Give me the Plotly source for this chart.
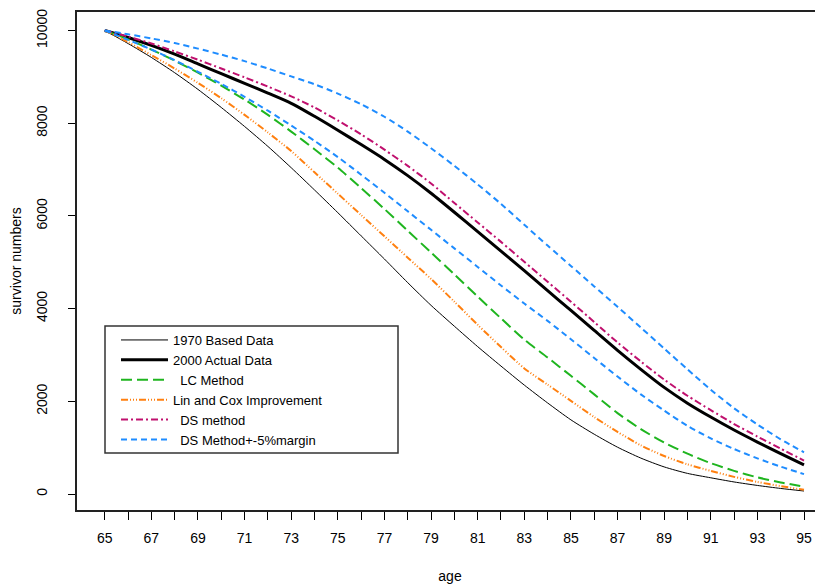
import plotly.graph_objects as go

ages = list(range(65, 96))

base_1970 = [10000, 9720, 9420, 9090, 8730, 8340, 7930, 7500, 7040, 6560, 6070,
             5570, 5070, 4560, 4070, 3620, 3180, 2760, 2350, 1965, 1600,
             1290, 1010, 775, 585, 445, 350, 260, 185, 120, 65]
actual_2000 = [10000, 9850, 9680, 9490, 9280, 9070, 8860, 8650, 8430, 8150, 7850,
               7540, 7220, 6870, 6490, 6080, 5660, 5240, 4820, 4390, 3960,
               3530, 3100, 2690, 2300, 1960, 1660, 1380, 1120, 870, 630]
lc_method = [10000, 9810, 9590, 9350, 9090, 8810, 8510, 8180, 7820, 7440, 7040,
             6600, 6150, 5680, 5210, 4740, 4260, 3790, 3330, 2945, 2550,
             2150, 1745, 1400, 1110, 870, 665, 500, 360, 250, 160]
lin_cox = [10000, 9750, 9470, 9180, 8870, 8540, 8180, 7800, 7400, 6940, 6480,
           6020, 5560, 5100, 4640, 4150, 3650, 3170, 2710, 2360, 2010,
           1660, 1340, 1050, 820, 640, 500, 370, 260, 170, 90]
ds_method = [10000, 9870, 9720, 9550, 9370, 9180, 8990, 8790, 8580, 8340, 8060,
             7760, 7430, 7080, 6700, 6280, 5860, 5440, 5010, 4580, 4150,
             3710, 3270, 2860, 2470, 2120, 1810, 1510, 1240, 980, 720]
ds_upper = [10000, 9920, 9830, 9730, 9610, 9480, 9340, 9180, 9010, 8840, 8640,
            8410, 8140, 7820, 7460, 7080, 6680, 6260, 5810, 5360, 4920,
            4480, 4040, 3590, 3140, 2690, 2250, 1850, 1500, 1180, 900]
ds_lower = [10000, 9800, 9590, 9360, 9110, 8850, 8570, 8270, 7950, 7620, 7270,
            6890, 6500, 6100, 5700, 5300, 4900, 4500, 4110, 3735, 3340,
            2935, 2535, 2150, 1800, 1470, 1200, 970, 770, 590, 430]

x_tick_vals = list(range(65, 96))
x_tick_text = [str(a) if a % 2 == 1 else "" for a in x_tick_vals]
y_tick_vals = [0, 2000, 4000, 6000, 8000, 10000]
y_tick_text = ["0", "2000", "4000", "6000", "8000", "10000"]

NB = "\u00a0"
names = ["1970 Based Data", "2000 Actual Data", NB + " LC Method",
         "Lin and Cox Improvement", NB + " DS method", NB + " DS Method+-5%margin"]

SM = dict(shape="spline", smoothing=0.7)

fig = go.Figure()
fig.add_trace(go.Scatter(x=ages, y=base_1970, mode="lines", name=names[0],
                         line=dict(color="black", width=1, **SM)))
fig.add_trace(go.Scatter(x=ages, y=actual_2000, mode="lines", name=names[1],
                         line=dict(color="black", width=3, **SM)))
fig.add_trace(go.Scatter(x=ages, y=lc_method, mode="lines", name=names[2],
                         line=dict(color="#1fb51f", width=2, dash="11px,5px", **SM)))
fig.add_trace(go.Scatter(x=ages, y=lin_cox, mode="lines", name=names[3],
                         line=dict(color="#ff8010", width=2,
                                   dash="7px,2px,1px,2px,1px,2px,1px,2px", **SM)))
fig.add_trace(go.Scatter(x=ages, y=ds_method, mode="lines", name=names[4],
                         line=dict(color="#c0106e", width=2, dash="7px,3px,2px,3px", **SM)))
fig.add_trace(go.Scatter(x=ages, y=ds_upper, mode="lines", name=names[5],
                         legendgroup="ds5",
                         line=dict(color="#1e8cff", width=2, dash="6px,4px", **SM)))
fig.add_trace(go.Scatter(x=ages, y=ds_lower, mode="lines", name=names[5],
                         legendgroup="ds5", showlegend=False,
                         line=dict(color="#1e8cff", width=2, dash="6px,4px", **SM)))

# page offset of the plotly div (default body margin)
OFF = 8
W, H = 823 - OFF, 586 - OFF
# plot area in page pixels: left 77, right 823, top 12, bottom 510
ml = 77 - OFF
mr = 0
mt = 12 - OFF
mb = H - (510 - OFF)
pw = W - ml - mr
ph = H - mt - mb

def px_to_paper_x(px):
    return (px - OFF - ml) / pw

def py_to_paper_y(py):
    return (H - mb - (py - OFF)) / ph

fig.update_layout(
    width=W, height=H,
    margin=dict(l=ml, r=mr, t=mt, b=mb, pad=0, autoexpand=False),
    paper_bgcolor="white", plot_bgcolor="white",
    font=dict(family="Liberation Sans, Arial, sans-serif", size=14, color="black"),
    showlegend=True,
    legend=dict(x=px_to_paper_x(116), y=py_to_paper_y(325), xanchor="left", yanchor="top",
                bgcolor="rgba(0,0,0,0)", borderwidth=0,
                font=dict(size=13), tracegroupgap=0, itemwidth=47),
    shapes=[dict(type="rect", xref="paper", yref="paper",
                 x0=px_to_paper_x(105), x1=px_to_paper_x(398),
                 y0=py_to_paper_y(453), y1=py_to_paper_y(326),
                 line=dict(color="#333333", width=1.5), fillcolor="rgba(0,0,0,0)",
                 layer="above")],
)

fig.update_xaxes(
    range=[63.81, 95.815], tickmode="array", tickvals=x_tick_vals, ticktext=x_tick_text,
    ticks="outside", ticklen=8, tickcolor="black", tickwidth=1,
    showline=True, linecolor="#222222", linewidth=1.5, mirror=True,
    showgrid=False, zeroline=False, automargin=False,
    tickfont=dict(size=14), ticklabelstandoff=6,
    title=dict(text="age", font=dict(size=14), standoff=27),
)
fig.update_yaxes(
    range=[-345, 10400], tickmode="array", tickvals=y_tick_vals, ticktext=y_tick_text,
    ticks="outside", ticklen=7, tickcolor="black", tickwidth=1,
    showline=True, linecolor="#222222", linewidth=1.5, mirror=False,
    showgrid=False, zeroline=False, tickangle=-90, automargin=False,
    tickfont=dict(size=14), ticklabelstandoff=16,
    title=dict(text="survivor numbers", font=dict(size=14), standoff=16),
)

fig.write_html("out.html")
